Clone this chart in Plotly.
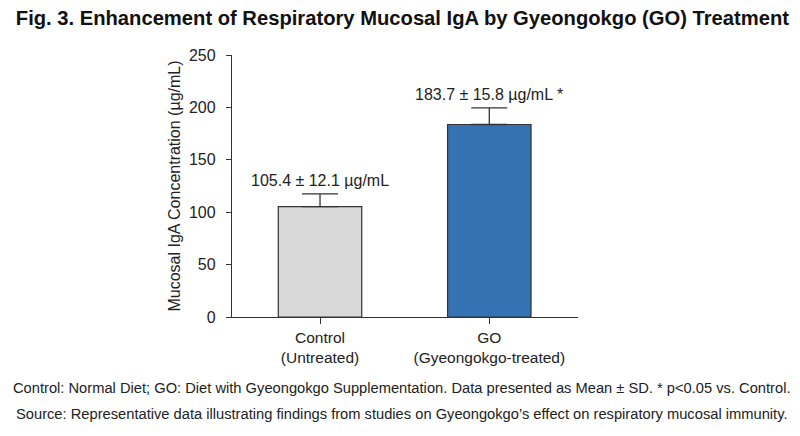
import plotly.graph_objects as go

# data
groups = ['Control<br>(Untreated)', 'GO<br>(Gyeongokgo-treated)']
means = [105.4, 183.7]
sds = [12.1, 15.8]
value_labels = ['105.4 ± 12.1 µg/mL', '183.7 ± 15.8 µg/mL *']
bar_colors = ['#d9d9d9', '#3572b3']
y_ticks = [0, 50, 100, 150, 200, 250]

xpos = list(range(len(groups)))

fig = go.Figure()
fig.add_trace(go.Bar(
    x=xpos, y=means, width=0.493,
    marker=dict(color=bar_colors, line=dict(color='#333333', width=1.2)),
    error_y=dict(type='data', array=sds, arrayminus=[0] * len(sds),
                 symmetric=False, color='#333333', thickness=1.3, width=18),
    showlegend=False,
))

# value labels above error bars
for x, m, s, lab in zip(xpos, means, sds, value_labels):
    fig.add_annotation(x=x, y=m + s, text=lab, showarrow=False,
                       yanchor='bottom', yshift=3,
                       font=dict(size=16, color='#222222'))

# page is drawn with an 8px body margin, so the figure is 8px smaller
fig.update_layout(
    width=792, height=428,
    paper_bgcolor='white', plot_bgcolor='white',
    margin=dict(l=224, r=222, t=47, b=119),
    font=dict(family='Liberation Sans, Arial, sans-serif', color='#222222'),
    title=dict(text='<b>Fig. 3. Enhancement of Respiratory Mucosal IgA by Gyeongokgo (GO) Treatment</b>',
               x=0.498, xanchor='center', y=0.977, yanchor='middle',
               font=dict(size=20.2, color='#111111')),
)
fig.update_xaxes(
    range=[-0.52, 1.524], tickvals=xpos, ticktext=groups,
    showline=True, linecolor='#333333', linewidth=1.3,
    ticks='outside', ticklen=6, tickcolor='#333333',
    tickfont=dict(size=15.5), showgrid=False, zeroline=False,
)
fig.update_yaxes(
    range=[0, 250], tickvals=y_ticks,
    showline=True, linecolor='#333333', linewidth=1.3,
    ticks='outside', ticklen=5, tickcolor='#333333', ticklabelstandoff=7,
    tickfont=dict(size=16), showgrid=False, zeroline=False,
    title=dict(text='Mucosal IgA Concentration (µg/mL)', font=dict(size=16), standoff=4),
)

footer = [
    'Control: Normal Diet; GO: Diet with Gyeongokgo Supplementation. Data presented as Mean ± SD. * p<0.05 vs. Control.',
    'Source: Representative data illustrating findings from studies on Gyeongokgo’s effect on respiratory mucosal immunity.',
]
for i, t in enumerate(footer):
    fig.add_annotation(xref='paper', yref='paper', x=0.491, y=-0.271 - i * 0.099,
                       xanchor='center', yanchor='middle', showarrow=False,
                       text=t, font=dict(size=14.7, color='#222222'))

fig.write_html('out.html')
